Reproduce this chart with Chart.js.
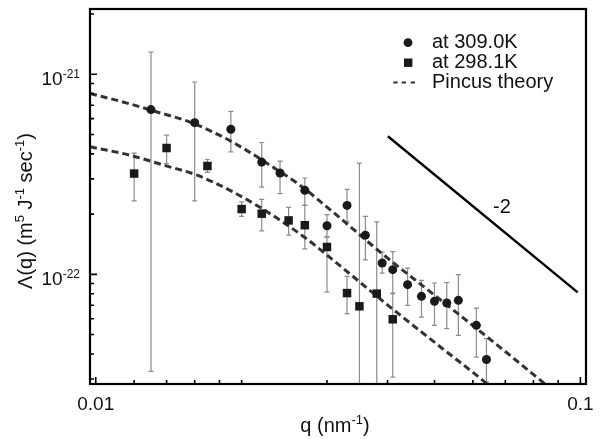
<!DOCTYPE html>
<html>
<head>
<meta charset="utf-8">
<script src="https://cdn.jsdelivr.net/npm/chart.js@4.4.0/dist/chart.umd.min.js"></script>
<style>
  html, body { margin: 0; padding: 0; background: #fff; }
</style>
</head>
<body>
<canvas id="canvas" width="608" height="439"></canvas>
<script>
// q in nm^-1, Lambda(q) in m^5 J^-1 sec^-1

// at 309.0K (circles)
const qHot   = [0.013, 0.016, 0.019, 0.022, 0.024, 0.027, 0.030, 0.033, 0.036, 0.039, 0.041, 0.044, 0.047, 0.050, 0.053, 0.056, 0.061, 0.064];
const lamHot = [6.66e-22, 5.73e-22, 5.31e-22, 3.64e-22, 3.21e-22, 2.63e-22, 1.75e-22, 2.21e-22, 1.57e-22, 1.14e-22, 1.055e-22, 8.88e-23, 7.76e-23, 7.33e-23, 7.19e-23, 7.41e-23, 5.56e-23, 3.75e-23];
const hiHot  = [1.29e-21, 9.15e-22, 6.53e-22, 4.56e-22, 3.68e-22, 3.03e-22, 1.99e-22, 2.66e-22, 1.95e-22, 1.29e-22, 1.30e-22, 1.075e-22, 9.33e-23, 9.05e-23, 9.09e-23, 9.97e-23, 6.78e-23, 4.77e-23];
const loHot  = [3.27e-23, 2.33e-22, 4.09e-22, 2.73e-22, 2.53e-22, 2.21e-22, 1.55e-22, 1.83e-22, 1.18e-22, 1.015e-22, 8.06e-23, 7.00e-23, 6.11e-23, 5.56e-23, 5.35e-23, 4.95e-23, 3.86e-23, 2.9e-23];

// at 298.1K (squares)
const qCold   = [0.012, 0.014, 0.017, 0.020, 0.022, 0.025, 0.027, 0.030, 0.033, 0.035, 0.038, 0.041];
const lamCold = [3.19e-22, 4.28e-22, 3.48e-22, 2.12e-22, 2.01e-22, 1.86e-22, 1.76e-22, 1.37e-22, 8.06e-23, 6.92e-23, 8.01e-23, 5.96e-23];
const hiCold  = [4.04e-22, 4.97e-22, 3.75e-22, 2.30e-22, 2.37e-22, 2.16e-22, 2.21e-22, 1.53e-22, 9.77e-23, 3.60e-22, 1.83e-22, 8.01e-23];
const loCold  = [2.33e-22, 3.58e-22, 3.23e-22, 1.95e-22, 1.65e-22, 1.57e-22, 1.34e-22, 8.15e-23, 6.36e-23, 2.0e-23, 2.0e-23, 3.06e-23];

// Pincus theory curves
const qFitHot   = [0.00973, 0.01138, 0.01338, 0.01564, 0.01830, 0.02080, 0.02288, 0.02638, 0.03085, 0.03912, 0.04961, 0.06817, 0.08166, 0.08643];
const lamFitHot = [8.01e-22, 7.27e-22, 6.48e-22, 5.77e-22, 4.86e-22, 4.07e-22, 3.51e-22, 2.79e-22, 2.05e-22, 1.26e-22, 7.99e-23, 4.33e-23, 3.03e-23, 2.71e-23];
const qFitCold   = [0.00973, 0.01177, 0.01383, 0.01618, 0.01892, 0.02150, 0.02365, 0.02728, 0.03190, 0.04045, 0.05127, 0.06289, 0.06501];
const lamFitCold = [4.34e-22, 3.94e-22, 3.51e-22, 3.13e-22, 2.63e-22, 2.21e-22, 1.91e-22, 1.50e-22, 1.105e-22, 6.88e-23, 4.36e-23, 2.95e-23, 2.75e-23];

// slope -2 guide line
const qSlope   = [0.04006, 0.09872];
const lamSlope = [4.90e-22, 8.13e-23];

// axes
const xMin = 0.00973, xMax = 0.1027;
const yMin = 2.83e-23, yMax = 2.12e-21;
const xMajor = [0.01, 0.1];
const xMinor = [0.012, 0.014, 0.016, 0.018, 0.02, 0.03, 0.04, 0.05, 0.06, 0.07, 0.08, 0.09];
const yMajor = [1e-22, 1e-21];
const yMinor = [3e-23, 4e-23, 5e-23, 6e-23, 7e-23, 8e-23, 9e-23, 2e-22, 3e-22, 4e-22, 5e-22, 6e-22, 7e-22, 8e-22, 9e-22, 2e-21];
const xLabels = ['0.01', '0.1'];
const yLabels = [['10', '-22'], ['10', '-21']];

const FONT = '"Liberation Sans", Arial, Helvetica, sans-serif';
const INK = '#111';

const pts = (xs, ys) => xs.map((v, i) => ({ x: v, y: ys[i] }));

// text with superscripts: parts = [[text, isSup], ...]
function drawRich(ctx, parts, x, y, size, align) {
  const supSize = Math.round(size * 0.65);
  const fontFor = p => (p[1] ? supSize : size) + 'px ' + FONT;
  let w = 0;
  parts.forEach(p => { ctx.font = fontFor(p); w += ctx.measureText(p[0]).width; });
  let cx = align === 'right' ? x - w : align === 'center' ? x - w / 2 : x;
  ctx.textAlign = 'left';
  ctx.textBaseline = 'alphabetic';
  parts.forEach(p => {
    ctx.font = fontFor(p);
    ctx.fillText(p[0], cx, p[1] ? y - size * 0.4 : y);
    cx += ctx.measureText(p[0]).width;
  });
}

const extras = {
  id: 'extras',
  beforeDatasetsDraw(chart) {
    const { ctx, chartArea: a, scales: { x, y } } = chart;
    ctx.save();
    ctx.beginPath();
    ctx.rect(a.left, a.top, a.right - a.left, a.bottom - a.top);
    ctx.clip();
    ctx.strokeStyle = '#8c8c8c';
    ctx.lineWidth = 1.2;
    const bars = (qs, lo, hi) => qs.forEach((q, i) => {
      const px = x.getPixelForValue(q);
      const y1 = y.getPixelForValue(hi[i]);
      const y2 = y.getPixelForValue(lo[i]);
      ctx.beginPath();
      ctx.moveTo(px, y1); ctx.lineTo(px, y2);
      ctx.moveTo(px - 2.5, y1); ctx.lineTo(px + 2.5, y1);
      ctx.moveTo(px - 2.5, y2); ctx.lineTo(px + 2.5, y2);
      ctx.stroke();
    });
    bars(qHot, loHot, hiHot);
    bars(qCold, loCold, hiCold);
    ctx.restore();
  },
  afterDraw(chart) {
    const { ctx, chartArea: a, scales: { x, y } } = chart;
    ctx.save();
    ctx.strokeStyle = '#000';
    ctx.fillStyle = INK;

    // frame
    ctx.lineWidth = 2.2;
    ctx.strokeRect(a.left, a.top, a.right - a.left, a.bottom - a.top);

    // inward ticks
    ctx.lineWidth = 1.6;
    ctx.beginPath();
    xMajor.forEach(v => { const p = x.getPixelForValue(v); ctx.moveTo(p, a.bottom); ctx.lineTo(p, a.bottom - 7); });
    xMinor.forEach(v => { const p = x.getPixelForValue(v); ctx.moveTo(p, a.bottom); ctx.lineTo(p, a.bottom - 4); });
    yMajor.forEach(v => { const p = y.getPixelForValue(v); ctx.moveTo(a.left, p); ctx.lineTo(a.left + 7, p); });
    yMinor.forEach(v => { const p = y.getPixelForValue(v); ctx.moveTo(a.left, p); ctx.lineTo(a.left + 4, p); });
    ctx.stroke();

    // tick labels
    ctx.font = '19px ' + FONT;
    ctx.textAlign = 'center';
    ctx.textBaseline = 'alphabetic';
    xMajor.forEach((v, i) => ctx.fillText(xLabels[i], x.getPixelForValue(v), a.bottom + 26));
    yMajor.forEach((v, i) => {
      drawRich(ctx, [[yLabels[i][0], false], [yLabels[i][1], true]], a.left - 10, y.getPixelForValue(v) + 11, 19, 'right');
    });

    // axis titles
    drawRich(ctx, [['q (nm', false], ['-1', true], [')', false]], 335, 432, 20, 'center');
    ctx.save();
    ctx.translate(32, 211);
    ctx.rotate(-Math.PI / 2);
    drawRich(ctx, [['\u039B(q) (m', false], ['5', true], [' J', false], ['-1', true], [' sec', false], ['-1', true], [')', false]], 0, 0, 20, 'center');
    ctx.restore();

    // slope label
    ctx.font = '20px ' + FONT;
    ctx.textAlign = 'center';
    ctx.textBaseline = 'middle';
    ctx.fillText('-2', 502, 207);

    // legend
    ctx.fillStyle = '#1a1a1a';
    ctx.beginPath();
    ctx.arc(408, 42.7, 4.4, 0, Math.PI * 2);
    ctx.fill();
    ctx.fillRect(404, 58.5, 8.4, 8.4);
    ctx.strokeStyle = '#333';
    ctx.lineWidth = 2;
    ctx.beginPath();
    [393.3, 401.7, 410.7].forEach(sx => { ctx.moveTo(sx, 82.5); ctx.lineTo(sx + 4.3, 82.5); });
    ctx.stroke();
    ctx.fillStyle = INK;
    ctx.font = '20px ' + FONT;
    ctx.textAlign = 'left';
    ctx.textBaseline = 'middle';
    ctx.fillText('at 309.0K', 432, 42.5);
    ctx.fillText('at 298.1K', 432, 62.5);
    ctx.fillText('Pincus theory', 432, 82);
    ctx.restore();
  }
};

Chart.defaults.font.family = FONT;

new Chart(document.getElementById('canvas').getContext('2d'), {
  type: 'scatter',
  data: {
    datasets: [
      {
        label: 'at 309.0K',
        data: pts(qHot, lamHot),
        pointStyle: 'circle',
        pointRadius: 4.5,
        backgroundColor: '#1a1a1a',
        borderColor: '#1a1a1a',
        borderWidth: 0
      },
      {
        label: 'at 298.1K',
        data: pts(qCold, lamCold),
        pointStyle: 'rect',
        pointRadius: 6,
        backgroundColor: '#1a1a1a',
        borderColor: '#1a1a1a',
        borderWidth: 0
      },
      {
        label: 'Pincus theory',
        data: pts(qFitHot, lamFitHot),
        showLine: true,
        pointRadius: 0,
        borderColor: '#333',
        borderWidth: 3,
        borderDash: [7, 4],
        tension: 0.4,
        cubicInterpolationMode: 'monotone'
      },
      {
        label: 'Pincus theory 298.1K',
        data: pts(qFitCold, lamFitCold),
        showLine: true,
        pointRadius: 0,
        borderColor: '#333',
        borderWidth: 3,
        borderDash: [7, 4],
        tension: 0.4,
        cubicInterpolationMode: 'monotone'
      },
      {
        label: 'slope -2',
        data: pts(qSlope, lamSlope),
        showLine: true,
        pointRadius: 0,
        borderColor: '#000',
        borderWidth: 2.4
      }
    ]
  },
  options: {
    responsive: false,
    animation: false,
    layout: { padding: { left: 0, top: 9, right: 22, bottom: 0 } },
    plugins: {
      legend: { display: false },
      tooltip: { enabled: false }
    },
    scales: {
      x: {
        type: 'logarithmic',
        min: xMin,
        max: xMax,
        ticks: { display: false },
        grid: { display: false },
        border: { display: false },
        afterFit(s) { s.height = 55; }
      },
      y: {
        type: 'logarithmic',
        min: yMin,
        max: yMax,
        ticks: { display: false },
        grid: { display: false },
        border: { display: false },
        afterFit(s) { s.width = 90; }
      }
    }
  },
  plugins: [extras]
});
</script>
</body>
</html>
